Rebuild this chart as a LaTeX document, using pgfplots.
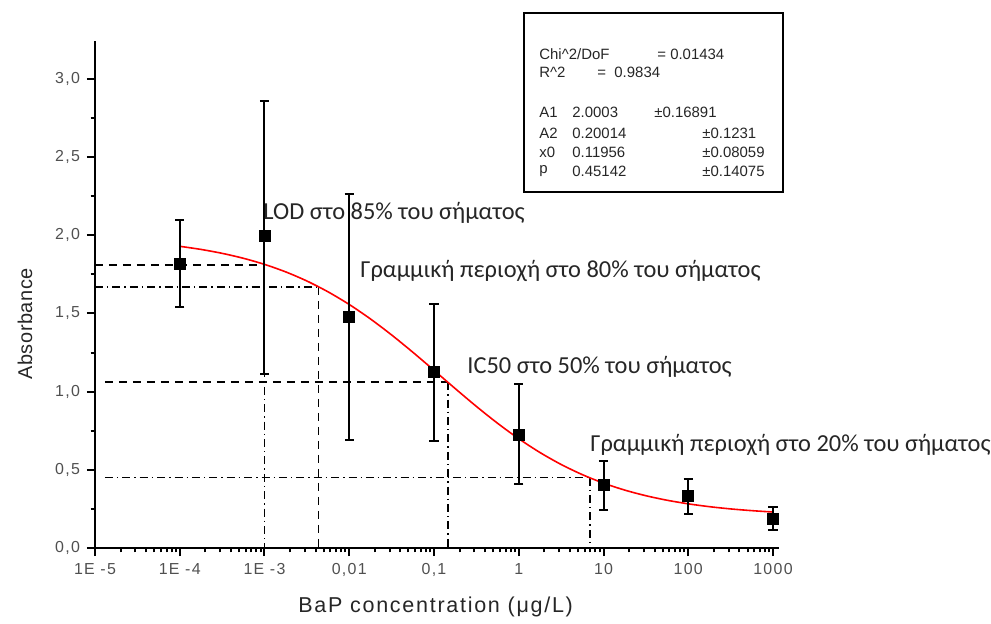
\documentclass[border=0pt]{standalone}
\usepackage{fontspec}
\setmainfont{Liberation Sans}
\newfontfamily\greekfont{Carlito}
\newfontfamily\tickfont{Liberation Sans}[LetterSpace=8]
\newfontfamily\labelfont{Liberation Sans}[LetterSpace=8]
\usepackage{pgfplots}
\pgfplotsset{compat=1.18}
\definecolor{tickgray}{HTML}{505050}
\tikzset{
  hdash/.style={line width=0.8bp, dash pattern=on 4bp off 3bp},
  hdashdot/.style={line width=0.8bp, dash pattern=on 4bp off 2bp on 0.7bp off 2bp},
}
\begin{document}
\begin{tikzpicture}
\begin{axis}[
  name=ax,
  scale only axis, width=342bp, height=253.5bp,
  xmode=log, xmin=1e-5, xmax=1177,
  ymin=0, ymax=3.243,
  axis x line*=bottom, axis y line*=left,
  axis line style={line width=1bp},
  every tick/.style={black, line width=1bp},
  tick align=outside, major tick length=4bp, minor tick length=2.2bp,
  xtick={1e-5,1e-4,1e-3,1e-2,1e-1,1,10,100,1000},
  xticklabels={1E -5,1E -4,1E -3,{0,01},{0,1},1,10,100,1000},
  ytick={0,0.5,1,1.5,2,2.5,3},
  minor ytick={0.25,0.75,1.25,1.75,2.25,2.75,3.25},
  yticklabel style={/pgf/number format/.cd, fixed, fixed zerofill, precision=1, use comma},
  /pgf/number format/assume math mode=true,
  tick label style={font=\tickfont\fontsize{8}{9}\selectfont, text=tickgray},
  xlabel={BaP concentration (μg/L)},
  ylabel={Absorbance},
  xlabel style={font=\labelfont\fontsize{10.8}{12}\selectfont, text=black!85, at={(axis description cs:0.498,0)}, anchor=center, yshift=-29.5bp},
  ylabel style={font=\fontsize{10}{12}\selectfont\addfontfeature{LetterSpace=3}, text=black!85, at={(axis description cs:-0.1023,0.442)}, anchor=center},
  clip=false,
]
% guide lines
\addplot[hdash] coordinates {(1e-5,1.81) (1e-3,1.81)};
\addplot[hdashdot] coordinates {(1e-3,1.81) (1e-3,0)};
\addplot[hdashdot] coordinates {(1e-5,1.67) (0.00433,1.67)};
\addplot[hdash] coordinates {(0.00433,1.67) (0.00433,0)};
\addplot[hdash] coordinates {(1.31e-5,1.06) (0.146,1.06)};
\addplot[hdashdot] coordinates {(0.146,1.06) (0.146,0)};
\addplot[hdashdot] coordinates {(1.31e-5,0.45) (6.9,0.45)};
\addplot[hdashdot] coordinates {(6.9,0.45) (6.9,0)};
% fitted curve
\addplot[red, line width=0.8bp, smooth] coordinates {
(1e-4,1.9297) (1.778e-4,1.9098) (3.162e-4,1.8847) (5.623e-4,1.8532)
(1e-3,1.8141) (1.778e-3,1.7661) (3.162e-3,1.7078) (5.623e-3,1.6384)
(1e-2,1.5575) (1.778e-2,1.4652) (3.162e-2,1.3626) (5.623e-2,1.2522)
(1e-1,1.1365) (0.1778,1.0198) (0.3162,0.9057) (0.5623,0.7978)
(1,0.6990) (1.778,0.6109) (3.162,0.5343) (5.623,0.4693)
(10,0.4150) (17.78,0.3705) (31.62,0.3344) (56.23,0.3055)
(100,0.2825) (177.8,0.2643) (316.2,0.2500) (562.3,0.2389) (1000,0.2302)
};
% data
\addplot[only marks, mark=square*, mark size=2.75bp, black,
  error bars/.cd, y dir=both, y explicit,
  error bar style={line width=1bp, black},
  error mark options={rotate=90, mark size=2.3bp, line width=1bp, black}]
coordinates {
(1e-4,1.817) += (0,0.283) -= (0,0.277)
(1e-3,1.996) += (0,0.864) -= (0,0.886)
(1e-2,1.478) += (0,0.787) -= (0,0.788)
(1e-1,1.126) += (0,0.434) -= (0,0.441)
(1,0.723) += (0,0.327) -= (0,0.313)
(10,0.403) += (0,0.154) -= (0,0.160)
(100,0.333) += (0,0.108) -= (0,0.115)
(1000,0.186) += (0,0.076) -= (0,0.071)
};
\end{axis}
\begin{scope}[shift={(ax.south west)}, x=0.5bp, y=-0.5bp]
  \path (0-95,0-548) rectangle (991-95,623-548);
  \begin{scope}[every node/.style={anchor=west, inner sep=0pt, font=\greekfont\fontsize{12.25}{14}\selectfont, text=black!85}]
    \node at (263-95,213-548) {LOD στο 85\% του σήματος};
    \node at (360-95,271-548) {Γραμμική περιοχή στο 80\% του σήματος};
    \node at (467-95,367-548) {IC50 στο 50\% του σήματος};
    \node at (590-95,445-548) {Γραμμική περιοχή στο 20\% του σήματος};
  \end{scope}
  \draw[line width=1bp] (524-95,13-548) rectangle (783-95,192-548);
  \begin{scope}[every node/.style={anchor=west, inner sep=0pt, font=\fontsize{7.5}{8.5}\selectfont, text=black!85}]
    \node at (539-95,54-548) {Chi\textasciicircum 2/DoF};
    \node at (657-95,54-548) {= 0.01434};
    \node at (539-95,72-548) {R\textasciicircum 2};
    \node at (597-95,72-548) {=\ \ 0.9834};
    \node at (539-95,112-548) {A1};
    \node at (572-95,112-548) {2.0003};
    \node at (654-95,112-548) {±0.16891};
    \node at (539-95,133-548) {A2};
    \node at (572-95,133-548) {0.20014};
    \node at (702-95,133-548) {±0.1231};
    \node at (539-95,152-548) {x0};
    \node at (572-95,152-548) {0.11956};
    \node at (702-95,152-548) {±0.08059};
    \node at (539-95,171-548) {p};
    \node at (572-95,171-548) {0.45142};
    \node at (702-95,171-548) {±0.14075};
  \end{scope}
\end{scope}
\end{tikzpicture}
\end{document}
